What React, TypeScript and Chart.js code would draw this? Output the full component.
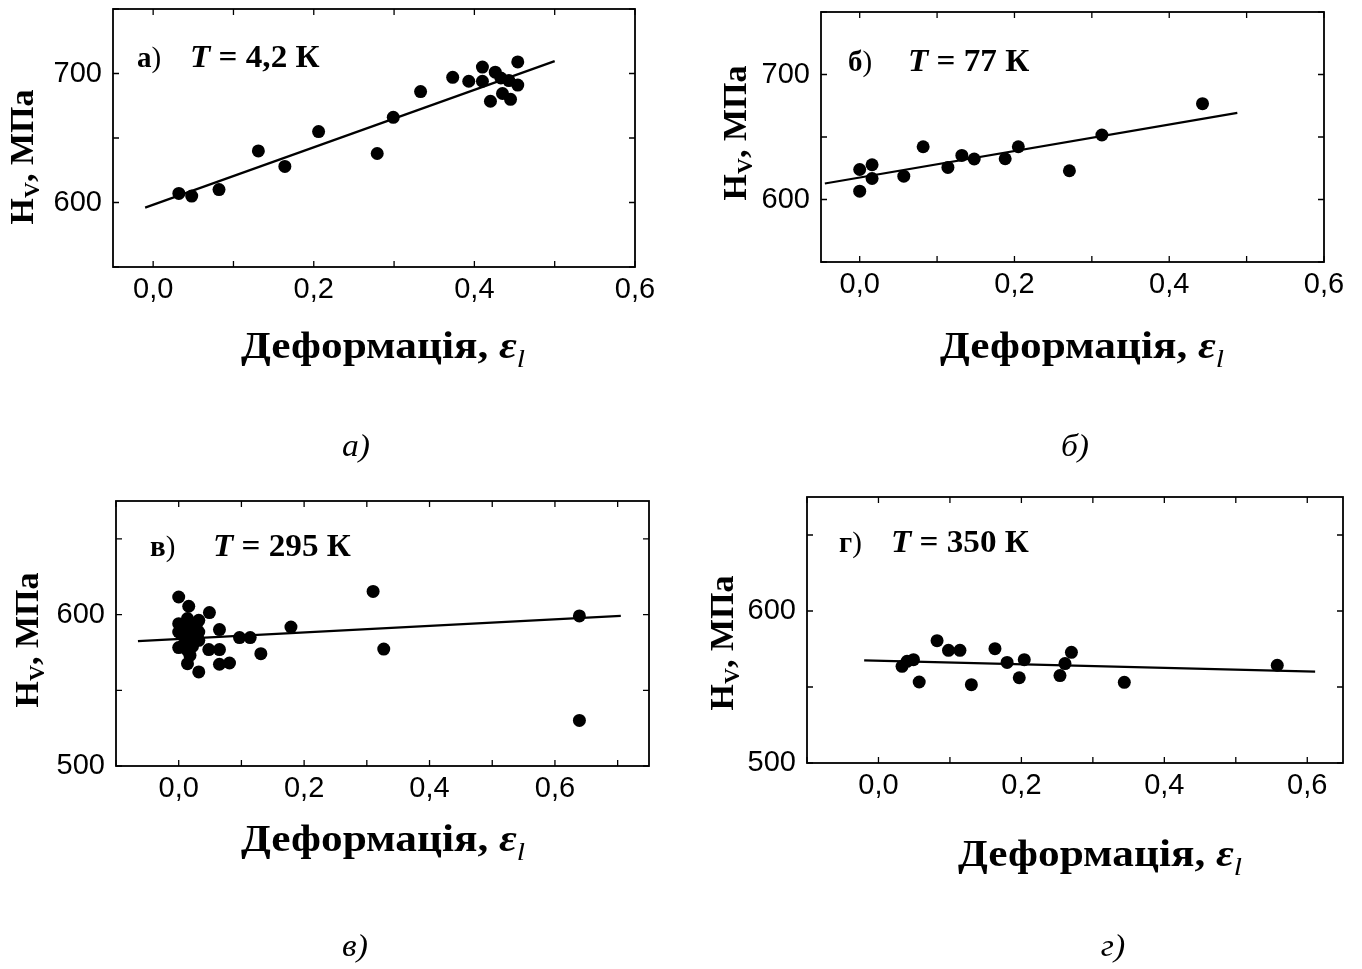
import React, { useEffect, useRef } from 'react';
import { Chart, registerables } from 'chart.js';

Chart.register(...registerables);

// ---------- data: panel а) T = 4,2 K ----------
const strainA = [0.032, 0.048, 0.082, 0.131, 0.164, 0.206, 0.279, 0.299, 0.333, 0.373, 0.393, 0.41, 0.41, 0.42, 0.426, 0.433, 0.435, 0.443, 0.445, 0.454, 0.454];
const hvA = [607, 605, 610, 640, 628, 655, 638, 666, 686, 697, 694, 705, 694, 678.5, 701, 696.5, 684.5, 694.5, 680, 709, 691];
const fitStrainA = [-0.01, 0.5];
const fitHvA = [596, 709.6];

// ---------- data: panel б) T = 77 K ----------
const strainB = [0, 0, 0.016, 0.016, 0.057, 0.082, 0.114, 0.132, 0.148, 0.188, 0.205, 0.271, 0.313, 0.443];
const hvB = [624, 606.7, 627.8, 616.8, 618.7, 642.2, 625.7, 635.3, 632.4, 632.6, 642.2, 623, 651.6, 676.7];
const fitStrainB = [-0.045, 0.488];
const fitHvB = [612.8, 669.3];

// ---------- data: panel в) T = 295 K ----------
const strainC = [0, 0.016, 0.049, 0, 0, 0, 0.014, 0.032, 0.014, 0.032, 0.032, 0.014, 0.014, 0.032, 0.065, 0.048, 0.065, 0.065, 0.081, 0.097, 0.114, 0.131, 0.179, 0.31, 0.327, 0.639, 0.639, 0.005, 0.02, 0.025, 0.008, 0.022, 0.018, 0.028, 0.01];
const hvC = [611.6, 605.5, 601.3, 594, 588.5, 578.2, 597.4, 596.2, 583, 588.5, 583, 576.4, 567.6, 562.1, 590.1, 576.9, 576.9, 567.2, 568, 584.8, 584.8, 574.2, 591.8, 615.3, 577.2, 599.1, 530.1, 591, 592, 586, 580, 579, 573, 593, 587];
const fitStrainC = [-0.065, 0.705];
const fitHvC = [582.5, 599.1];

// ---------- data: panel г) T = 350 K ----------
const strainD = [0.033, 0.04, 0.049, 0.057, 0.082, 0.098, 0.114, 0.13, 0.163, 0.18, 0.197, 0.204, 0.254, 0.261, 0.27, 0.344, 0.558];
const hvD = [563.6, 566.9, 568, 553.3, 580.5, 574.1, 574.1, 551.5, 575.2, 566.2, 556.1, 568, 557.5, 565.4, 572.8, 553.1, 564.3];
const fitStrainD = [-0.02, 0.611];
const fitHvD = [567.5, 560.1];

// tick steps
const xMinorStep = 0.1;
const xLabelStep = 0.2;
const yMinorStep = 50;
const yLabelStep = 100;

const SERIF = '"Liberation Serif", "Times New Roman", serif';
const SANS = '"Liberation Sans", Arial, sans-serif';

type Run = { text: string; font: string; dy?: number };

const isMult = (v: number, step: number) => Math.abs(v / step - Math.round(v / step)) < 1e-6;
const fmtX = (v: number) => (Math.abs(v) < 1e-9 ? 0 : v).toFixed(1).replace('.', ',');

function runsWidth(ctx: CanvasRenderingContext2D, runs: Run[]) {
  let w = 0;
  for (const r of runs) {
    ctx.font = r.font;
    w += ctx.measureText(r.text).width;
  }
  return w;
}

function drawRuns(ctx: CanvasRenderingContext2D, runs: Run[], x: number, y: number, sx = 1, center = false) {
  ctx.save();
  ctx.translate(x, y);
  ctx.scale(sx, 1);
  let cx = center ? -runsWidth(ctx, runs) / 2 : 0;
  for (const r of runs) {
    ctx.font = r.font;
    ctx.fillText(r.text, cx, r.dy || 0);
    cx += ctx.measureText(r.text).width;
  }
  ctx.restore();
}

interface PanelCfg {
  strain: number[]; hv: number[]; fitStrain: number[]; fitHv: number[];
  xMin: number; xMax: number; yMin: number; yMax: number;
  left: number; top: number; width: number; height: number;
  area: { l: number; t: number; r: number; b: number };
  letter: string; temp: string; letterX: number; tempX: number; annY: number;
  xTitleX: number; xTitleY: number; yTitleX: number; yTitleY: number;
  caption: string; capX: number; capY: number;
}

const panels: PanelCfg[] = [
  {
    strain: strainA, hv: hvA, fitStrain: fitStrainA, fitHv: fitHvA,
    xMin: -0.05, xMax: 0.6, yMin: 550, yMax: 750,
    left: 0, top: 0, width: 690, height: 470,
    area: { l: 113, t: 9, r: 635, b: 267 },
    letter: 'а', temp: ' = 4,2 К', letterX: 137, tempX: 190, annY: 67,
    xTitleX: 383, xTitleY: 358, yTitleX: 33, yTitleY: 157,
    caption: 'а)', capX: 356, capY: 456,
  },
  {
    strain: strainB, hv: hvB, fitStrain: fitStrainB, fitHv: fitHvB,
    xMin: -0.05, xMax: 0.6, yMin: 550, yMax: 750,
    left: 690, top: 0, width: 672, height: 470,
    area: { l: 131, t: 12, r: 634, b: 262 },
    letter: 'б', temp: ' = 77 К', letterX: 158, tempX: 218, annY: 71,
    xTitleX: 392, xTitleY: 358, yTitleX: 56, yTitleY: 133,
    caption: 'б)', capX: 385, capY: 456,
  },
  {
    strain: strainC, hv: hvC, fitStrain: fitStrainC, fitHv: fitHvC,
    xMin: -0.1, xMax: 0.75, yMin: 500, yMax: 675,
    left: 0, top: 470, width: 690, height: 499,
    area: { l: 116, t: 31, r: 649, b: 296 },
    letter: 'в', temp: ' = 295 К', letterX: 150, tempX: 213, annY: 86,
    xTitleX: 383, xTitleY: 381, yTitleX: 38, yTitleY: 170,
    caption: 'в)', capX: 355, capY: 486,
  },
  {
    strain: strainD, hv: hvD, fitStrain: fitStrainD, fitHv: fitHvD,
    xMin: -0.1, xMax: 0.65, yMin: 500, yMax: 675,
    left: 690, top: 470, width: 672, height: 499,
    area: { l: 117, t: 27, r: 653, b: 293 },
    letter: 'г', temp: ' = 350 К', letterX: 149, tempX: 201, annY: 82,
    xTitleX: 410, xTitleY: 396, yTitleX: 43, yTitleY: 173,
    caption: 'г)', capX: 423, capY: 486,
  },
];

function zeroPad(s: any) {
  s.paddingLeft = 0;
  s.paddingRight = 0;
  s.paddingTop = 0;
  s.paddingBottom = 0;
}

function decorPlugin(p: PanelCfg) {
  return {
    id: 'decor',
    afterDraw(chart: any) {
      const ctx: CanvasRenderingContext2D = chart.ctx;
      const { left, right, top, bottom } = chart.chartArea;
      ctx.save();
      ctx.strokeStyle = '#000';
      ctx.fillStyle = '#000';
      ctx.lineWidth = 1.8;
      ctx.strokeRect(left, top, right - left, bottom - top);
      ctx.lineWidth = 1.3;
      const tl = 6;
      const xs = chart.scales.x;
      ctx.beginPath();
      for (const t of xs.ticks) {
        if (!isMult(t.value, xMinorStep)) continue;
        const px = xs.getPixelForValue(t.value);
        ctx.moveTo(px, bottom); ctx.lineTo(px, bottom - tl);
        ctx.moveTo(px, top); ctx.lineTo(px, top + tl);
      }
      const ys = chart.scales.y;
      for (const t of ys.ticks) {
        if (!isMult(t.value, yMinorStep)) continue;
        const py = ys.getPixelForValue(t.value);
        ctx.moveTo(left, py); ctx.lineTo(left + tl, py);
        ctx.moveTo(right, py); ctx.lineTo(right - tl, py);
      }
      ctx.stroke();

      ctx.textBaseline = 'alphabetic';
      ctx.textAlign = 'left';
      // panel annotation
      drawRuns(ctx, [
        { text: p.letter, font: `bold 29px ${SERIF}` },
        { text: ')', font: `29px ${SERIF}` },
      ], p.letterX, p.annY, 1);
      drawRuns(ctx, [
        { text: 'T', font: `italic bold 31px ${SERIF}` },
        { text: p.temp, font: `bold 31px ${SERIF}` },
      ], p.tempX, p.annY, 1.07);

      // x title
      drawRuns(ctx, [
        { text: 'Деформація, ', font: `bold 38px ${SERIF}` },
        { text: 'ε', font: `italic bold 38px ${SERIF}` },
        { text: 'l', font: `italic 26px ${SERIF}`, dy: 9 },
      ], p.xTitleX, p.xTitleY, 1.14, true);

      // y title (rotated)
      ctx.save();
      ctx.translate(p.yTitleX, p.yTitleY);
      ctx.rotate(-Math.PI / 2);
      drawRuns(ctx, [
        { text: 'H', font: `bold 34px ${SERIF}` },
        { text: 'V', font: `bold 22px ${SERIF}`, dy: 6 },
        { text: ', МПа', font: `bold 34px ${SERIF}` },
      ], 0, 0, 1, true);
      ctx.restore();

      // caption
      drawRuns(ctx, [{ text: p.caption, font: `italic 32px ${SERIF}` }], p.capX, p.capY, 1.05, true);
      ctx.restore();
    },
  };
}

function Panel({ p }: { p: PanelCfg }) {
  const ref = useRef<HTMLCanvasElement | null>(null);
  useEffect(() => {
    const canvas = ref.current!;
    const chart = new Chart(canvas, {
      type: 'scatter',
      data: {
        datasets: [
          {
            data: p.strain.map((x, i) => ({ x, y: p.hv[i] })),
            pointRadius: 6.5,
            pointHoverRadius: 6.5,
            backgroundColor: '#000',
            borderColor: '#000',
            borderWidth: 0,
            showLine: false,
          },
          {
            data: p.fitStrain.map((x, i) => ({ x, y: p.fitHv[i] })),
            showLine: true,
            borderColor: '#000',
            borderWidth: 2.2,
            pointRadius: 0,
            pointHoverRadius: 0,
            fill: false,
            tension: 0,
          },
        ],
      },
      options: {
        animation: false,
        responsive: false,
        devicePixelRatio: 1,
        events: [],
        layout: { padding: { left: 0, top: p.area.t, right: p.width - p.area.r, bottom: 0 } },
        plugins: { legend: { display: false }, tooltip: { enabled: false } },
        scales: {
          x: {
            type: 'linear',
            position: 'bottom',
            min: p.xMin,
            max: p.xMax,
            grid: { display: false, drawTicks: false, tickLength: 0 },
            border: { display: false },
            ticks: {
              stepSize: xMinorStep,
              includeBounds: false,
              autoSkip: false,
              maxRotation: 0,
              minRotation: 0,
              padding: 6,
              color: '#000',
              font: { family: SANS, size: 29 },
              callback: (v: any) => (isMult(Number(v), xLabelStep) ? fmtX(Number(v)) : ''),
            },
            afterFit: (s: any) => { s.height = p.height - p.area.b; zeroPad(s); },
          },
          y: {
            type: 'linear',
            position: 'left',
            min: p.yMin,
            max: p.yMax,
            grid: { display: false, drawTicks: false, tickLength: 0 },
            border: { display: false },
            ticks: {
              stepSize: yMinorStep,
              includeBounds: false,
              autoSkip: false,
              padding: 11,
              color: '#000',
              font: { family: SANS, size: 29 },
              callback: (v: any) => (isMult(Number(v), yLabelStep) ? String(Math.round(Number(v))) : ''),
            },
            afterFit: (s: any) => { s.width = p.area.l; zeroPad(s); },
          },
        },
      } as any,
      plugins: [decorPlugin(p)],
    });
    let alive = true;
    const fonts = [
      `bold 30px ${SERIF}`, `italic bold 30px ${SERIF}`, `italic 30px ${SERIF}`, `30px ${SERIF}`, `28px ${SANS}`,
    ];
    Promise.all(fonts.map((f) => (document as any).fonts.load(f, 'ДефорМПаε0,6')))
      .then(() => { if (alive) chart.update(); })
      .catch(() => {});
    return () => { alive = false; chart.destroy(); };
  }, [p]);
  return (
    <canvas
      ref={ref}
      width={p.width}
      height={p.height}
      style={{ position: 'absolute', left: p.left, top: p.top, width: p.width, height: p.height, display: 'block' }}
    />
  );
}

export default function App() {
  return (
    <div>
      {panels.map((p, i) => (
        <Panel key={i} p={p} />
      ))}
    </div>
  );
}
